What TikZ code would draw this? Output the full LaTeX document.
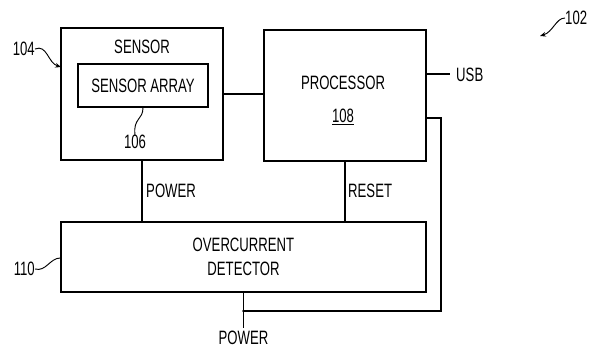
\documentclass[tikz,border=0pt]{standalone}
\usepackage{fontspec}
\setmainfont{Liberation Sans}[FakeStretch=0.68]
\usetikzlibrary{arrows.meta}

\tikzset{
  blk/.style={draw,line width=1.3pt,inner sep=0pt},
  txt/.style={font=\fontsize{16.5}{20}\selectfont,inner sep=0pt},
  wire/.style={line width=0.9pt},
  lead/.style={line width=0.8pt}
}

\begin{document}
\begin{tikzpicture}[x=0.03cm,y=-0.03cm]
      \useasboundingbox (0,0) rectangle (594,347);
      % blocks
      \node[blk,minimum width=4.86cm,minimum height=3.96cm] (sensor) at (142,94) {};
      \node[txt] (sensorlbl) at (142,47) {SENSOR};
      \node[blk,txt,minimum width=3.9cm,minimum height=1.29cm] (array) at (143,85.5) {SENSOR ARRAY};
      \node[blk,minimum width=4.86cm,minimum height=3.93cm] (proc) at (345,95.5) {};
      \node[txt] (proclbl) at (343,83) {PROCESSOR};
      \node[txt] (procnum) at (343,117) {\underline{108}};
      \node[blk,txt,align=center,minimum width=10.95cm,minimum height=2.1cm] (ocd) at (243.5,257) {OVERCURRENT\\DETECTOR};
      % wires
      \draw[wire] (sensor.east) -- (sensor.east -| proc.west);
      \draw[wire] (sensor.south) -- (sensor.south |- ocd.north);
      \node[txt,anchor=west] (pwr1) at (146,191) {POWER};
      \draw[wire] (proc.south) -- (proc.south |- ocd.north);
      \node[txt,anchor=west] (rst) at (348,191) {RESET};
      \coordinate (usb) at (450,74);
      \draw[wire] (proc.east |- usb) -- (usb);
      \node[txt,anchor=west] (usblbl) at (456,75) {USB};
      \coordinate (pw) at (426,118);
      \coordinate (pwc) at (441,311);
      \coordinate (jn) at (243.5,311);
      \coordinate (pin) at (243.5,328);
      \draw[wire] (pw) -- (pw -| pwc) -- (pwc) -- (jn);
      \draw[wire] (ocd.south) -- (pin);
      \fill (jn) circle (1.3);
      \node[txt] (pwr2) at (243.5,338) {POWER};
      % reference numerals
      \node[txt,anchor=east] (n104) at (35,49) {104};
      \draw[lead,-{Stealth[length=5pt,width=4pt]}] (n104.east) .. controls (47,44) and (48,63) .. (61,67);
      \node[txt] (n106) at (135,142) {106};
      \draw[lead] (n106.north) .. controls (133,118) and (143,120) .. (array.south);
      \node[txt,anchor=east] (n110) at (35,269) {110};
      \draw[lead] (n110.east) .. controls (46,272) and (50,258) .. (sensor.west |- 0,258);
      \node[txt,anchor=west] (n102) at (565,18) {102};
      \draw[lead,-{Stealth[length=5pt,width=4pt]}] (n102.west) .. controls (556,18) and (553,32) .. (540,36);
    \end{tikzpicture}
\end{document}
